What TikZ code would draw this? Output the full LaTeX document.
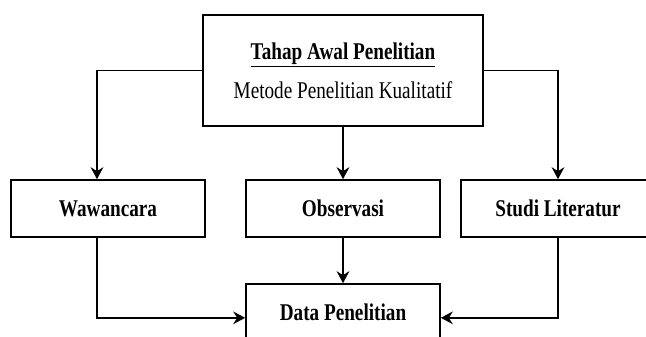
\documentclass[tikz,border=0pt]{standalone}
\usepackage{fontspec}
\setmainfont{Liberation Serif}
\usetikzlibrary{arrows.meta,positioning,calc}
\newcommand{\narrowtext}[1]{\scalebox{0.8}[1]{#1}}

\tikzset{
	stagebox/.style={draw, line width=1.2pt, inner sep=0pt,
		minimum width=145.5pt, minimum height=42.75pt,
		font=\fontsize{18}{21}\selectfont\bfseries},
	headbox/.style={stagebox, minimum width=210pt, minimum height=83.25pt,
		align=center, font=\fontsize{18}{21}\selectfont},
	flow/.style={line width=1.2pt, -{Stealth[length=9pt,width=9.5pt,inset=3pt]}},
}

\begin{document}
\begin{tikzpicture}[x=0.75pt,y=-0.75pt]
			%%%%% START %%%%%
			\clip (0,0) rectangle (646,336);
			
			\node[headbox] (tahap) at (343,70.5)
				{\narrowtext{\underline{\textbf{Tahap Awal Penelitian}}}\\[8pt]\narrowtext{Metode Penelitian Kualitatif}};
			
			\node[stagebox] (wawancara) at (108,208.5) {\narrowtext{Wawancara}};
			\node[stagebox] (observasi) at (343,208.5) {\narrowtext{Observasi}};
			\node[stagebox] (studi) at (558,208.5) {\narrowtext{Studi Literatur}};
			
			\node[stagebox] (data) at (343,312.5) {\narrowtext{Data Penelitian}};
			
			\draw[flow] (tahap.west) -| ([xshift=-8.25pt]wawancara.north);
			\draw[flow] (tahap.south) -- (observasi.north);
			\draw[flow] (tahap.east) -| (studi.north);
			
			\draw[flow] ([xshift=-8.25pt]wawancara.south) |- ([yshift=-4pt]data.west);
			\draw[flow] (observasi.south) -- (data.north);
			\draw[flow] (studi.south) |- ([yshift=-4pt]data.east);
			%%%%% END %%%%%
\end{tikzpicture}
\end{document}
